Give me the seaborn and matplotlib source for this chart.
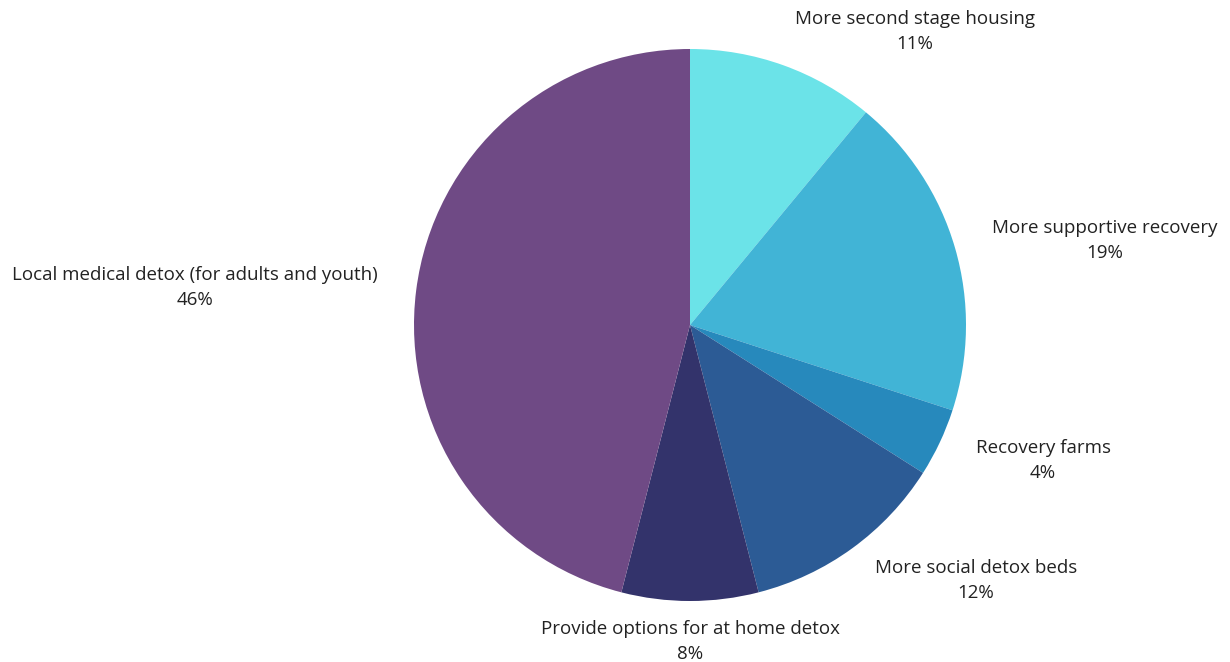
import matplotlib.pyplot as plt
import seaborn as sns

labels = ["More second stage housing", "More supportive recovery", "Recovery farms",
          "More social detox beds", "Provide options for at home detox",
          "Local medical detox (for adults and youth)"]
shares = [11, 19, 4, 12, 8, 46]
colors = ["#6BE3E8", "#41B4D6", "#2789BC", "#2C5B95", "#33336B", "#6F4A85"]

# label centres in pixels (x, y from top)
label_pos = [(915, 19), (1105, 228), (1043, 448), (976, 568), (690, 629), (195, 275)]

sns.set_style("white")
plt.rcParams['font.family'] = ['Open Sans', 'DejaVu Sans']

W, H = 1230, 662
fig = plt.figure(figsize=(W / 100, H / 100), dpi=100)
cx, cy, r = 690, 325, 276
ax = fig.add_axes([(cx - r) / W, (H - cy - r) / H, 2 * r / W, 2 * r / H])

pal = sns.color_palette(colors)
ax.pie(shares, colors=pal, startangle=90, counterclock=False, radius=1,
       wedgeprops=dict(linewidth=0))
ax.set_xlim(-1, 1)
ax.set_ylim(-1, 1)
ax.set_aspect('equal')
ax.axis('off')

for lab, val, (px, py) in zip(labels, shares, label_pos):
    fig.text(px / W, 1 - py / H, lab, ha='center', va='center', fontsize=13.5, color='#222222')
    fig.text(px / W, 1 - (py + 25) / H, f"{val}%", ha='center', va='center', fontsize=13.5, color='#222222')

fig.savefig("out.png", dpi=100, facecolor='white')
